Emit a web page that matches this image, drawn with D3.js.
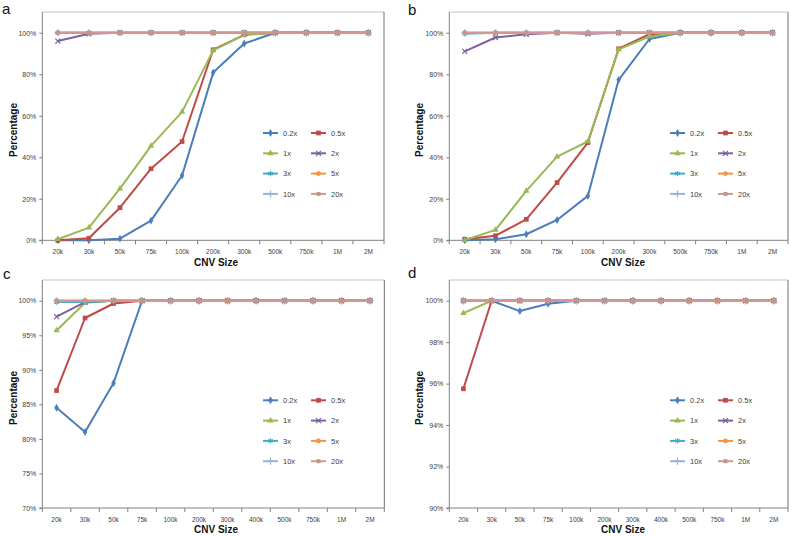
<!DOCTYPE html>
<html>
<head>
<meta charset="utf-8">
<script src="https://cdn.jsdelivr.net/npm/d3@7"></script>
<style>
  html, body { margin: 0; padding: 0; background: #fff; }
  svg { display: block; font-family: "Liberation Sans", Arial, sans-serif; }
</style>
</head>
<body>
<svg id="chart" width="795" height="536"></svg>
<script>
// ---------- data ----------
const categoriesAB = ["20k","30k","50k","75k","100k","200k","300k","500k","750k","1M","2M"];
const categoriesCD = ["20k","30k","50k","75k","100k","200k","300k","400k","500k","750k","1M","2M"];
const seriesNames = ["0.2x","0.5x","1x","2x","3x","5x","10x","20x"];

// Panel a (percent)
const a_02 = [0, 0, 0.8, 9.5, 31.2, 80.8, 94.8, 100, 100, 100, 100];
const a_05 = [0, 1, 15.7, 34.5, 47.6, 91.8, 99, 100, 100, 100, 100];
const a_1  = [0.5, 6.1, 24.9, 45.5, 61.9, 91.5, 99, 100, 100, 100, 100];
const a_2  = [96, 99.5, 100, 100, 100, 100, 100, 100, 100, 100, 100];
const a_3  = [100, 100, 100, 100, 100, 100, 100, 100, 100, 100, 100];
const a_5  = [100, 100, 100, 100, 100, 100, 100, 100, 100, 100, 100];
const a_10 = [100, 100, 100, 100, 100, 100, 100, 100, 100, 100, 100];
const a_20 = [100, 100, 100, 100, 100, 100, 100, 100, 100, 100, 100];

// Panel b
const b_02 = [0, 0.5, 2.9, 9.8, 21.4, 77.3, 97, 100, 100, 100, 100];
const b_05 = [0.5, 2.2, 10.1, 27.8, 47.1, 92.3, 99.3, 100, 100, 100, 100];
const b_1  = [0, 5, 23.8, 40.3, 47.6, 92, 98.2, 100, 100, 100, 100];
const b_2  = [91, 97.7, 99.3, 100, 99.5, 100, 100, 100, 100, 100, 100];
const b_3  = [99.5, 100, 100, 100, 100, 100, 100, 100, 100, 100, 100];
const b_5  = [100, 100, 100, 100, 100, 100, 100, 100, 100, 100, 100];
const b_10 = [100, 100, 100, 100, 100, 100, 100, 100, 100, 100, 100];
const b_20 = [100, 100, 100, 100, 100, 100, 100, 100, 100, 100, 100];

// Panel c
const c_02 = [84.5, 81, 88.1, 100, 100, 100, 100, 100, 100, 100, 100, 100];
const c_05 = [87, 97.5, 99.6, 100, 100, 100, 100, 100, 100, 100, 100, 100];
const c_1  = [95.7, 99.7, 100, 100, 100, 100, 100, 100, 100, 100, 100, 100];
const c_2  = [97.7, 99.8, 100, 100, 100, 100, 100, 100, 100, 100, 100, 100];
const c_3  = [99.8, 99.8, 100, 100, 100, 100, 100, 100, 100, 100, 100, 100];
const c_5  = [100, 100, 100, 100, 100, 100, 100, 100, 100, 100, 100, 100];
const c_10 = [100, 100, 100, 100, 100, 100, 100, 100, 100, 100, 100, 100];
const c_20 = [100, 100, 100, 100, 100, 100, 100, 100, 100, 100, 100, 100];

// Panel d
const d_02 = [100, 100, 99.5, 99.85, 100, 100, 100, 100, 100, 100, 100, 100];
const d_05 = [95.75, 100, 100, 100, 100, 100, 100, 100, 100, 100, 100, 100];
const d_1  = [99.4, 100, 100, 100, 100, 100, 100, 100, 100, 100, 100, 100];
const d_2  = [100, 100, 100, 100, 100, 100, 100, 100, 100, 100, 100, 100];
const d_3  = [100, 100, 100, 100, 100, 100, 100, 100, 100, 100, 100, 100];
const d_5  = [100, 100, 100, 100, 100, 100, 100, 100, 100, 100, 100, 100];
const d_10 = [100, 100, 100, 100, 100, 100, 100, 100, 100, 100, 100, 100];
const d_20 = [100, 100, 100, 100, 100, 100, 100, 100, 100, 100, 100, 100];

const yTicksAB = [0, 20, 40, 60, 80, 100];
const yTicksC  = [70, 75, 80, 85, 90, 95, 100];
const yTicksD  = [90, 92, 94, 96, 98, 100];

// ---------- styles ----------
const colors = ["#4A7EBB","#BE4B48","#98B954","#7D60A0","#46AAC5","#F69240","#94B4DE","#D39591"];
const markerColors = ["#4A7EBB","#BE4B48","#98B954","#7D60A0","#46AAC5","#F69240","#94B4DE","#C4958C"];
const symbolTimes = d3.symbolTimes || d3.symbolX || d3.symbolCross;
const symbolAst = d3.symbolAsterisk || d3.symbolCross;
const symbolPl = d3.symbolPlus || d3.symbolCross;
const markers = [
  {type: d3.symbolDiamond, size: 18, stroke: false},
  {type: d3.symbolSquare, size: 22, stroke: false},
  {type: d3.symbolTriangle, size: 18, stroke: false},
  {type: symbolTimes, size: 18, stroke: true},
  {type: symbolAst, size: 20, stroke: true},
  {type: d3.symbolCircle, size: 18, stroke: false},
  {type: symbolPl, size: 18, stroke: true},
  {type: d3.symbolSquare, size: 16, stroke: false}
];

const panels = [
  {letter: "a", lx: 2, ly: 14, cats: categoriesAB, series: [a_02,a_05,a_1,a_2,a_3,a_5,a_10,a_20],
   left: 42.3, right: 384, top: 12, bottom: 240.3, ymin: 0, ymax: 110, ticks: yTicksAB,
   ylabX: 13, ylabY: 130, xlabX: 216, xlabY: 266, legX: 263, legY: 133},
  {letter: "b", lx: 408, ly: 15, cats: categoriesAB, series: [b_02,b_05,b_1,b_2,b_3,b_5,b_10,b_20],
   left: 449.3, right: 788, top: 12, bottom: 240.3, ymin: 0, ymax: 110, ticks: yTicksAB,
   ylabX: 419, ylabY: 130, xlabX: 623, xlabY: 266, legX: 670, legY: 133},
  {letter: "c", lx: 3, ly: 279, cats: categoriesCD, series: [c_02,c_05,c_1,c_2,c_3,c_5,c_10,c_20],
   left: 42.3, right: 384.3, top: 280, bottom: 508, ymin: 70, ymax: 103, ticks: yTicksC,
   ylabX: 13, ylabY: 398, xlabX: 216, xlabY: 533, legX: 263, legY: 400.3},
  {letter: "d", lx: 408, ly: 278, cats: categoriesCD, series: [d_02,d_05,d_1,d_2,d_3,d_5,d_10,d_20],
   left: 449.3, right: 788, top: 280, bottom: 508, ymin: 90, ymax: 101, ticks: yTicksD,
   ylabX: 419, ylabY: 398, xlabX: 623, xlabY: 533, legX: 670, legY: 400.3}
];

const svg = d3.select("#chart");

function drawMarker(g, i, x, y) {
  const m = markers[i];
  const p = g.append("path")
    .attr("d", d3.symbol().type(m.type).size(m.size)())
    .attr("transform", `translate(${x},${y})`);
  if (m.stroke) p.attr("fill", "none").attr("stroke", markerColors[i]).attr("stroke-width", 1.2);
  else p.attr("fill", markerColors[i]).attr("stroke", "none");
}

panels.forEach(P => {
  const g = svg.append("g");
  const x = d3.scaleBand().domain(P.cats).range([P.left, P.right]).padding(0);
  const y = d3.scaleLinear().domain([P.ymin, P.ymax]).range([P.bottom, P.top]);

  // frame (top & right)
  g.append("line").attr("x1", P.left).attr("x2", P.right).attr("y1", P.top).attr("y2", P.top)
    .attr("stroke", "#c4c4c4").attr("stroke-width", 1);
  g.append("line").attr("x1", P.right).attr("x2", P.right).attr("y1", P.top).attr("y2", P.bottom)
    .attr("stroke", "#707070").attr("stroke-width", 1);

  // y axis
  const yAxis = d3.axisLeft(y).tickValues(P.ticks).tickSize(3).tickPadding(3)
    .tickFormat(d => d + "%");
  const ya = g.append("g").attr("transform", `translate(${P.left},0)`).call(yAxis);
  ya.select(".domain").attr("stroke", "#808080").attr("d", `M-3,${P.bottom}H0V${P.top}`);
  ya.selectAll(".tick line").attr("stroke", "#808080");
  ya.selectAll(".tick text").attr("fill", "#404040").style("font-size", "7px")
    .style("font-family", "'Liberation Sans', Arial, sans-serif");

  // x axis
  const xAxis = d3.axisBottom(x).tickSize(0).tickPadding(9);
  const xa = g.append("g").attr("transform", `translate(0,${P.bottom})`).call(xAxis);
  xa.select(".domain").attr("stroke", "#808080").attr("d", `M${P.left},0H${P.right}`);
  xa.selectAll(".tick text").attr("fill", "#404040").style("font-size", "6.5px")
    .style("font-family", "'Liberation Sans', Arial, sans-serif");
  // category boundary ticks
  const bounds = P.cats.map(c => x(c)).concat([P.right]);
  xa.selectAll(".btick").data(bounds).enter().append("line")
    .attr("x1", d => d).attr("x2", d => d).attr("y1", 0).attr("y2", 4)
    .attr("stroke", "#808080");

  // series
  const line = d3.line().x((d, i) => x(P.cats[i]) + x.bandwidth() / 2).y(d => y(d));
  P.series.forEach((vals, si) => {
    g.append("path").datum(vals).attr("d", line)
      .attr("fill", "none").attr("stroke", colors[si]).attr("stroke-width", 2)
      .attr("stroke-linejoin", "round");
    vals.forEach((v, i) => drawMarker(g, si, x(P.cats[i]) + x.bandwidth() / 2, y(v)));
  });

  // legend
  seriesNames.forEach((name, i) => {
    const col = i % 2, row = Math.floor(i / 2);
    const lx = P.legX + col * 48, ly = P.legY + row * 20.3;
    g.append("line").attr("x1", lx).attr("x2", lx + 15).attr("y1", ly).attr("y2", ly)
      .attr("stroke", colors[i]).attr("stroke-width", 2);
    drawMarker(g, i, lx + 7.5, ly);
    g.append("text").attr("x", lx + 20).attr("y", ly + 2.6).text(name)
      .attr("fill", "#404040").style("font-size", "7.5px");
  });

  // axis titles
  g.append("text").attr("x", P.xlabX).attr("y", P.xlabY).attr("text-anchor", "middle")
    .style("font-size", "10px").style("font-weight", "bold").attr("fill", "#111").text("CNV Size");
  g.append("text").attr("transform", `translate(${P.ylabX + 3.5},${P.ylabY}) rotate(-90)`)
    .attr("text-anchor", "middle")
    .style("font-size", "10px").style("font-weight", "bold").attr("fill", "#111").text("Percentage");

  // panel letter
  g.append("text").attr("x", P.lx).attr("y", P.ly).style("font-size", "15px")
    .attr("fill", "#111").text(P.letter);
});
</script>
</body>
</html>
